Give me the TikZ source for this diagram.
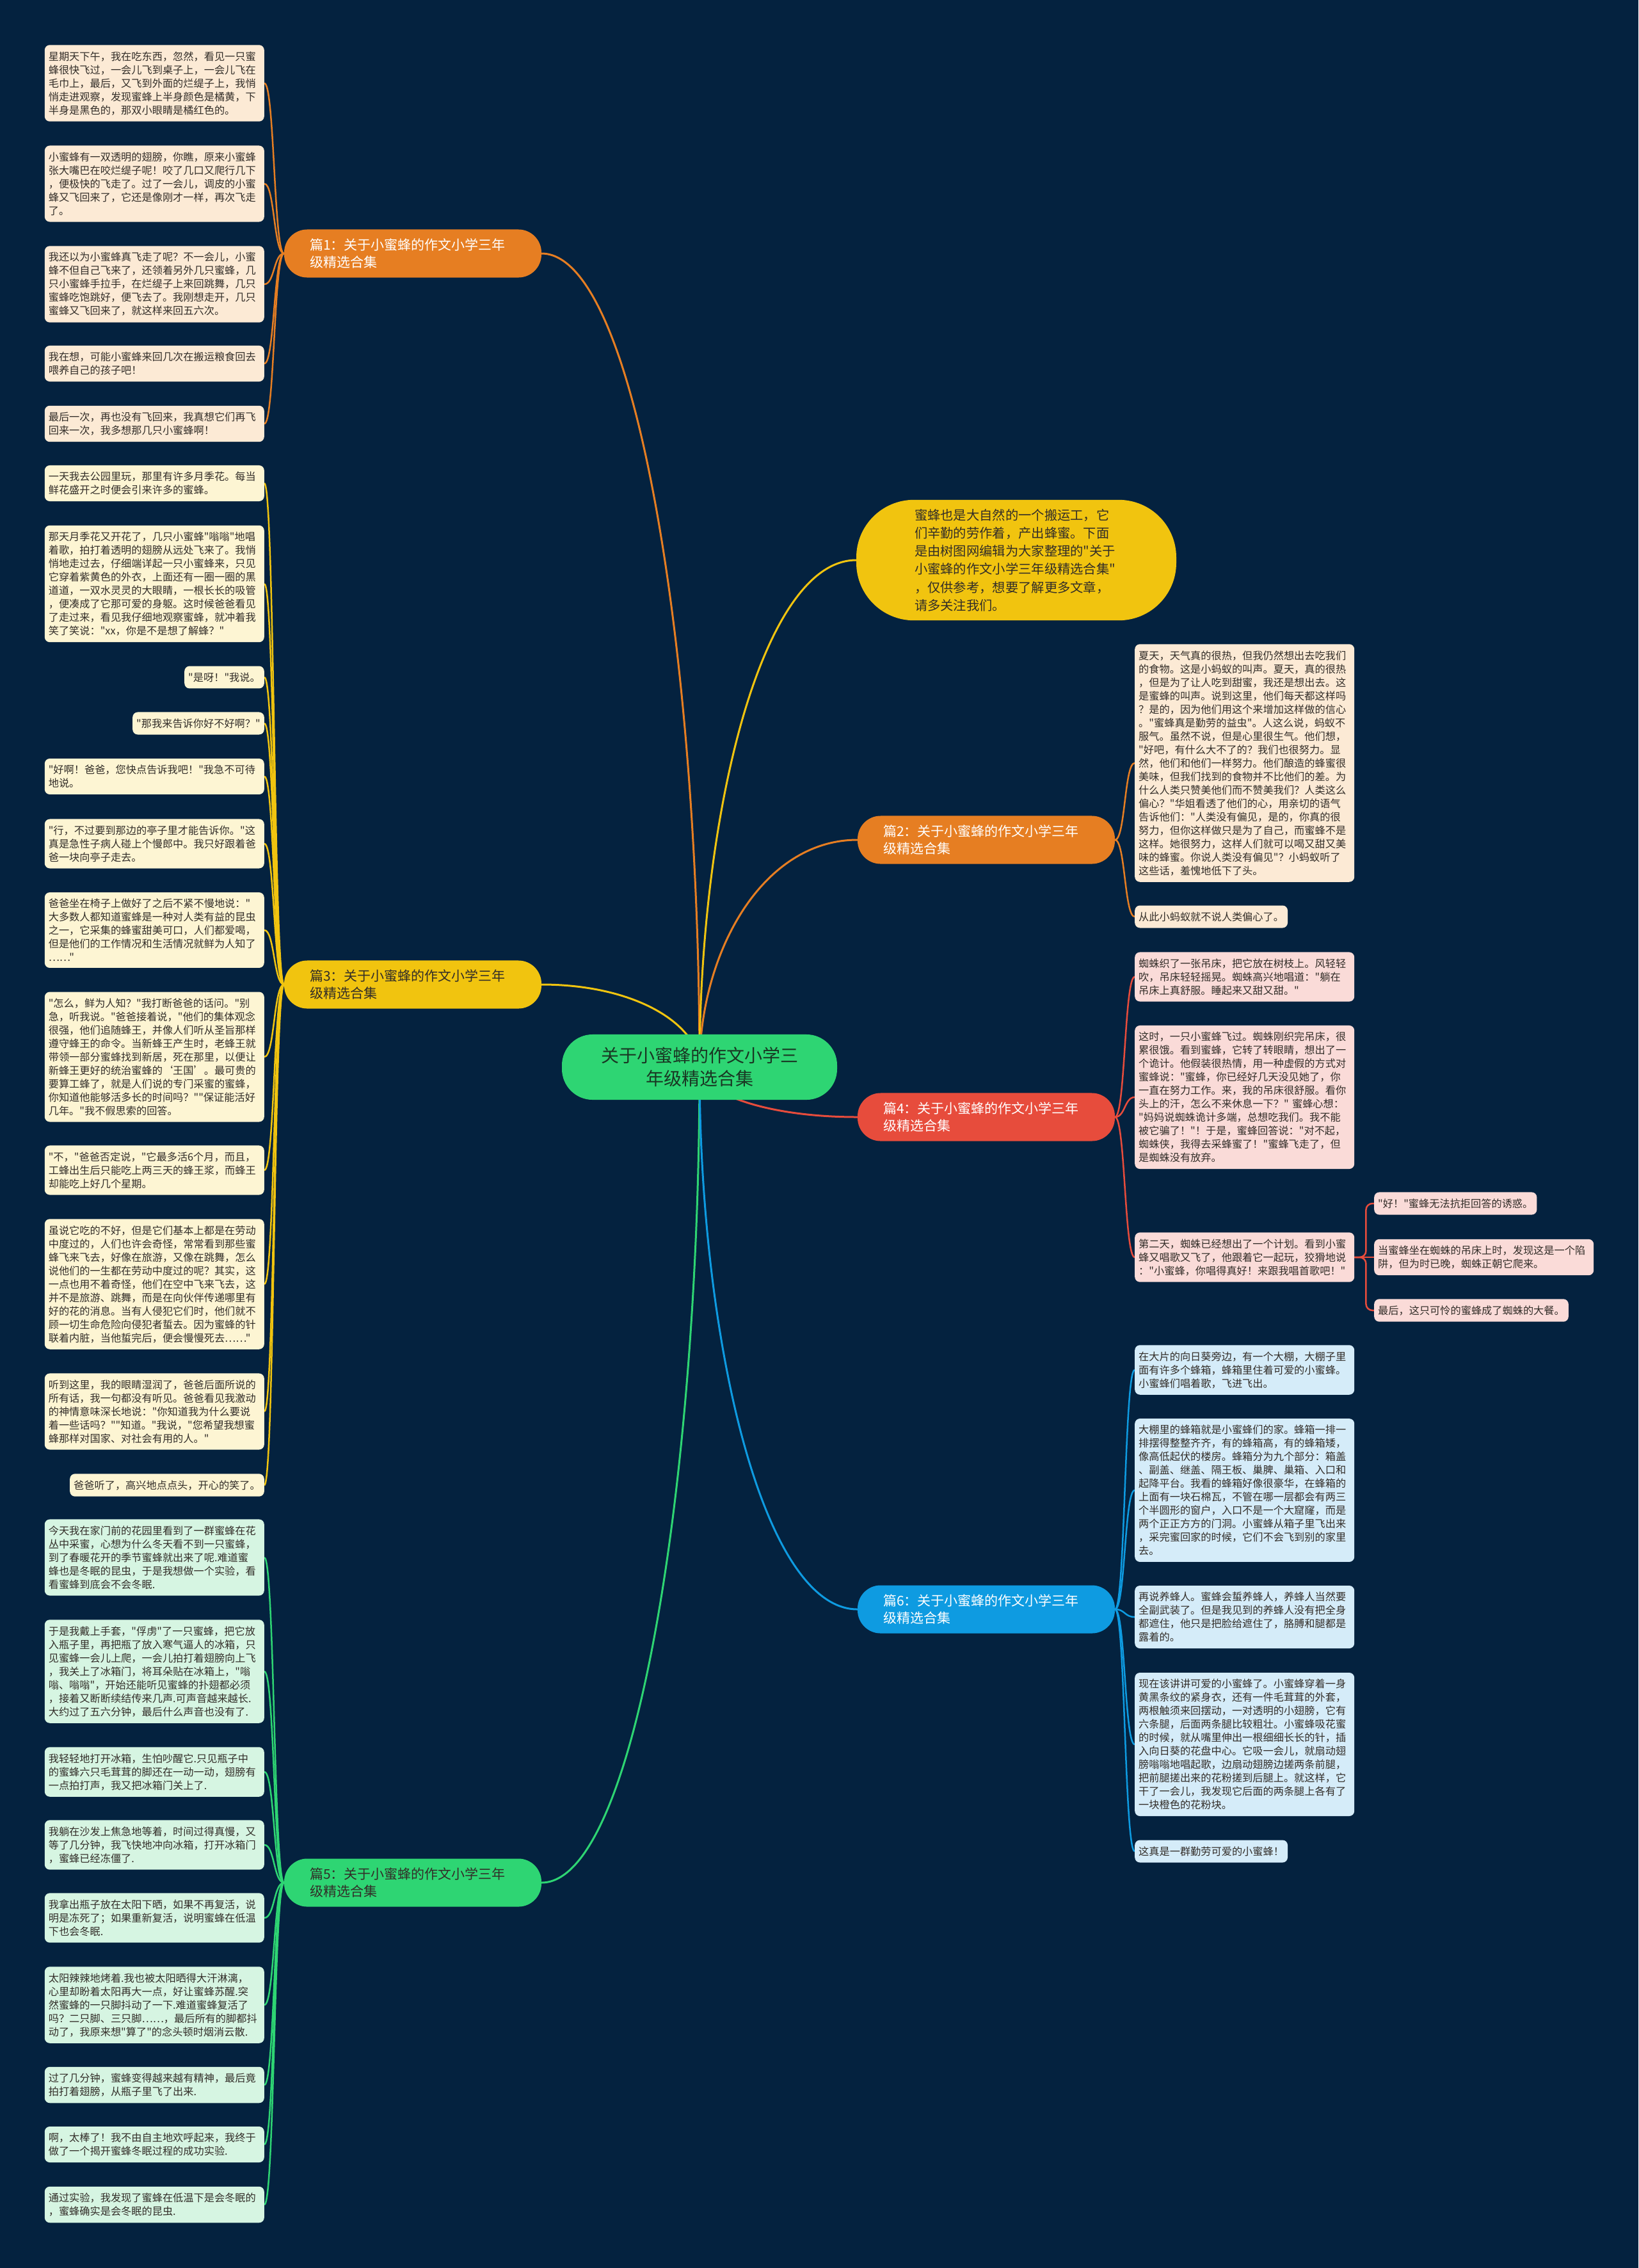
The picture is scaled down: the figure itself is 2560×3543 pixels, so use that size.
\documentclass[tikz,border=0pt]{standalone}
\usepackage{fontspec}
\setmainfont{Noto Sans CJK SC}[Ligatures=TeXOff]
\usetikzlibrary{backgrounds}
\definecolor{navybg}{RGB}{4, 34, 63}
\definecolor{orange1}{RGB}{230, 126, 34}
\definecolor{yellow1}{RGB}{241, 196, 15}
\definecolor{green1}{RGB}{46, 213, 115}
\definecolor{red1}{RGB}{231, 76, 60}
\definecolor{blue1}{RGB}{14, 155, 225}
\definecolor{peachfill}{RGB}{252, 234, 213}
\definecolor{creamfill}{RGB}{253, 245, 211}
\definecolor{mintfill}{RGB}{214, 245, 226}
\definecolor{pinkfill}{RGB}{250, 219, 216}
\definecolor{skyfill}{RGB}{213, 236, 249}
\definecolor{inktext}{RGB}{50, 45, 40}
\definecolor{roottext}{RGB}{25, 55, 35}

\tikzset{
  leaf/.style={rectangle, rounded corners=8pt, inner xsep=6pt, inner ysep=10pt, align=left, text=inktext, font=\fontsize{16.2}{21}\selectfont},
  wide/.style={text width=331pt},
  branch/.style={rectangle, rounded corners=36pt, inner xsep=40pt, inner ysep=14pt, text width=322pt, align=left, font=\fontsize{21}{27.5}\selectfont},
  mainedge/.style={line width=3pt},
  leafedge/.style={line width=2.5pt}
}

\begin{document}
\begin{tikzpicture}[x=1pt, y=-1pt]
  % Root and intro
  \node[rectangle, rounded corners=48pt, fill=green1, text=roottext, align=center, inner xsep=61pt, inner ysep=20pt, font=\fontsize{28}{36}\selectfont] (root) at (1093, 1667) {关于小蜜蜂的作文小学三\\年级精选合集};
  \node[rectangle, rounded corners=90pt, fill=yellow1, text=inktext, text width=318pt, align=left, inner xsep=91pt, inner ysep=14pt, font=\fontsize{20.3}{28.3}\selectfont] (intro) at (1588, 875) {蜜蜂也是大自然的一个搬运工，它\\们辛勤的劳作着，产出蜂蜜。下面\\是由树图网编辑为大家整理的"关于\\小蜜蜂的作文小学三年级精选合集"\\，仅供参考，想要了解更多文章，\\请多关注我们。};

  % Branches
  \node[branch, fill=orange1, text=white] (b1) at (645, 396) {篇1：关于小蜜蜂的作文小学三年\\级精选合集};
  \node[branch, fill=yellow1, text=inktext] (b3) at (645, 1538) {篇3：关于小蜜蜂的作文小学三年\\级精选合集};
  \node[branch, fill=green1, text=inktext] (b5) at (645, 2941) {篇5：关于小蜜蜂的作文小学三年\\级精选合集};
  \node[branch, fill=orange1, text=white] (b2) at (1541, 1312) {篇2：关于小蜜蜂的作文小学三年\\级精选合集};
  \node[branch, fill=red1, text=white] (b4) at (1541, 1745) {篇4：关于小蜜蜂的作文小学三年\\级精选合集};
  \node[branch, fill=blue1, text=white] (b6) at (1541, 2514) {篇6：关于小蜜蜂的作文小学三年\\级精选合集};

  % Leaves of b1
  \node[leaf, wide, fill=peachfill, anchor=east] (l1a) at (413, 130) {星期天下午，我在吃东西，忽然，看见一只蜜\\蜂很快飞过，一会儿飞到桌子上，一会儿飞在\\毛巾上，最后，又飞到外面的烂缇子上，我悄\\悄走进观察，发现蜜蜂上半身颜色是橘黄，下\\半身是黑色的，那双小眼睛是橘红色的。};
  \node[leaf, wide, fill=peachfill, anchor=east] (l1b) at (413, 287) {小蜜蜂有一双透明的翅膀，你瞧，原来小蜜蜂\\张大嘴巴在咬烂缇子呢！咬了几口又爬行几下\\，便极快的飞走了。过了一会儿，调皮的小蜜\\蜂又飞回来了，它还是像刚才一样，再次飞走\\了。};
  \node[leaf, wide, fill=peachfill, anchor=east] (l1c) at (413, 444) {我还以为小蜜蜂真飞走了呢？不一会儿，小蜜\\蜂不但自己飞来了，还领着另外几只蜜蜂，几\\只小蜜蜂手拉手，在烂缇子上来回跳舞，几只\\蜜蜂吃饱跳好，便飞去了。我刚想走开，几只\\蜜蜂又飞回来了，就这样来回五六次。};
  \node[leaf, wide, fill=peachfill, anchor=east] (l1d) at (413, 568) {我在想，可能小蜜蜂来回几次在搬运粮食回去\\喂养自己的孩子吧！};
  \node[leaf, wide, fill=peachfill, anchor=east] (l1e) at (413, 662) {最后一次，再也没有飞回来，我真想它们再飞\\回来一次，我多想那几只小蜜蜂啊！};

  % Leaves of b3
  \node[leaf, wide, fill=creamfill, anchor=east] (l3a) at (413, 755) {一天我去公园里玩，那里有许多月季花。每当\\鲜花盛开之时便会引来许多的蜜蜂。};
  \node[leaf, wide, fill=creamfill, anchor=east] (l3b) at (413, 912) {那天月季花又开花了，几只小蜜蜂"嗡嗡"地唱\\着歌，拍打着透明的翅膀从远处飞来了。我悄\\悄地走过去，仔细端详起一只小蜜蜂来，只见\\它穿着紫黄色的外衣，上面还有一圈一圈的黑\\道道，一双水灵灵的大眼睛，一根长长的吸管\\，便凑成了它那可爱的身躯。这时候爸爸看见\\了走过来，看见我仔细地观察蜜蜂，就冲着我\\笑了笑说："xx，你是不是想了解蜂？"};
  \node[leaf, fill=creamfill, anchor=east] (l3c) at (413, 1058) {"是呀！"我说。};
  \node[leaf, fill=creamfill, anchor=east] (l3d) at (413, 1130) {"那我来告诉你好不好啊？"};
  \node[leaf, wide, fill=creamfill, anchor=east] (l3e) at (413, 1213) {"好啊！爸爸，您快点告诉我吧！"我急不可待\\地说。};
  \node[leaf, wide, fill=creamfill, anchor=east] (l3f) at (413, 1318) {"行，不过要到那边的亭子里才能告诉你。"这\\真是急性子病人碰上个慢郎中。我只好跟着爸\\爸一块向亭子走去。};
  \node[leaf, wide, fill=creamfill, anchor=east] (l3g) at (413, 1453) {爸爸坐在椅子上做好了之后不紧不慢地说："\\大多数人都知道蜜蜂是一种对人类有益的昆虫\\之一，它采集的蜂蜜甜美可口，人们都爱喝，\\但是他们的工作情况和生活情况就鲜为人知了\\……"};
  \node[leaf, wide, fill=creamfill, anchor=east] (l3h) at (413, 1651) {"怎么，鲜为人知？"我打断爸爸的话问。"别\\急，听我说。"爸爸接着说，"他们的集体观念\\很强，他们追随蜂王，并像人们听从圣旨那样\\遵守蜂王的命令。当新蜂王产生时，老蜂王就\\带领一部分蜜蜂找到新居，死在那里，以便让\\新蜂王更好的统治蜜蜂的‘王国’。最可贵的\\要算工蜂了，就是人们说的专门采蜜的蜜蜂，\\你知道他能够活多长的时间吗？""保证能活好\\几年。"我不假思索的回答。};
  \node[leaf, wide, fill=creamfill, anchor=east] (l3i) at (413, 1828) {"不，"爸爸否定说，"它最多活6个月，而且，\\工蜂出生后只能吃上两三天的蜂王浆，而蜂王\\却能吃上好几个星期。};
  \node[leaf, wide, fill=creamfill, anchor=east] (l3j) at (413, 2006) {虽说它吃的不好，但是它们基本上都是在劳动\\中度过的，人们也许会奇怪，常常看到那些蜜\\蜂飞来飞去，好像在旅游，又像在跳舞，怎么\\说他们的一生都在劳动中度过的呢？其实，这\\一点也用不着奇怪，他们在空中飞来飞去，这\\并不是旅游、跳舞，而是在向伙伴传递哪里有\\好的花的消息。当有人侵犯它们时，他们就不\\顾一切生命危险向侵犯者蜇去。因为蜜蜂的针\\联着内脏，当他蜇完后，便会慢慢死去……"};
  \node[leaf, wide, fill=creamfill, anchor=east] (l3k) at (413, 2205) {听到这里，我的眼睛湿润了，爸爸后面所说的\\所有话，我一句都没有听见。爸爸看见我激动\\的神情意味深长地说："你知道我为什么要说\\着一些话吗？""知道。"我说，"您希望我想蜜\\蜂那样对国家、对社会有用的人。"};
  \node[leaf, fill=creamfill, anchor=east] (l3l) at (413, 2320) {爸爸听了，高兴地点点头，开心的笑了。};

  % Leaves of b5
  \node[leaf, wide, fill=mintfill, anchor=east] (l5a) at (413, 2433) {今天我在家门前的花园里看到了一群蜜蜂在花\\丛中采蜜，心想为什么冬天看不到一只蜜蜂，\\到了春暖花开的季节蜜蜂就出来了呢.难道蜜\\蜂也是冬眠的昆虫，于是我想做一个实验，看\\看蜜蜂到底会不会冬眠.};
  \node[leaf, wide, fill=mintfill, anchor=east] (l5b) at (413, 2611) {于是我戴上手套，"俘虏"了一只蜜蜂，把它放\\入瓶子里，再把瓶了放入寒气逼人的冰箱，只\\见蜜蜂一会儿上爬，一会儿拍打着翅膀向上飞\\，我关上了冰箱门，将耳朵贴在冰箱上，"嗡\\嗡、嗡嗡"，开始还能听见蜜蜂的扑翅都必须\\，接着又断断续结传来几声.可声音越来越长.\\大约过了五六分钟，最后什么声音也没有了.};
  \node[leaf, wide, fill=mintfill, anchor=east] (l5c) at (413, 2768) {我轻轻地打开冰箱，生怕吵醒它.只见瓶子中\\的蜜蜂六只毛茸茸的脚还在一动一动，翅膀有\\一点拍打声，我又把冰箱门关上了.};
  \node[leaf, wide, fill=mintfill, anchor=east] (l5d) at (413, 2882) {我躺在沙发上焦急地等着，时间过得真慢，又\\等了几分钟，我飞快地冲向冰箱，打开冰箱门\\，蜜蜂已经冻僵了.};
  \node[leaf, wide, fill=mintfill, anchor=east] (l5e) at (413, 2996) {我拿出瓶子放在太阳下晒，如果不再复活，说\\明是冻死了；如果重新复活，说明蜜蜂在低温\\下也会冬眠.};
  \node[leaf, wide, fill=mintfill, anchor=east] (l5f) at (413, 3132) {太阳辣辣地烤着.我也被太阳晒得大汗淋漓，\\心里却盼着太阳再大一点，好让蜜蜂苏醒.突\\然蜜蜂的一只脚抖动了一下.难道蜜蜂复活了\\吗？二只脚、三只脚……，最后所有的脚都抖\\动了，我原来想"算了"的念头顿时烟消云散.};
  \node[leaf, wide, fill=mintfill, anchor=east] (l5g) at (413, 3257) {过了几分钟，蜜蜂变得越来越有精神，最后竟\\拍打着翅膀，从瓶子里飞了出来.};
  \node[leaf, wide, fill=mintfill, anchor=east] (l5h) at (413, 3350) {啊，太棒了！我不由自主地欢呼起来，我终于\\做了一个揭开蜜蜂冬眠过程的成功实验.};
  \node[leaf, wide, fill=mintfill, anchor=east] (l5i) at (413, 3444) {通过实验，我发现了蜜蜂在低温下是会冬眠的\\，蜜蜂确实是会冬眠的昆虫.};

  % Leaves of b2
  \node[leaf, wide, fill=peachfill, anchor=west] (r2a) at (1773, 1192) {夏天，天气真的很热，但我仍然想出去吃我们\\的食物。这是小蚂蚁的叫声。夏天，真的很热\\，但是为了让人吃到甜蜜，我还是想出去。这\\是蜜蜂的叫声。说到这里，他们每天都这样吗\\？是的，因为他们用这个来增加这样做的信心\\。"蜜蜂真是勤劳的益虫"。人这么说，蚂蚁不\\服气。虽然不说，但是心里很生气。他们想，\\"好吧，有什么大不了的？我们也很努力。显\\然，他们和他们一样努力。他们酿造的蜂蜜很\\美味，但我们找到的食物并不比他们的差。为\\什么人类只赞美他们而不赞美我们？人类这么\\偏心？"华姐看透了他们的心，用亲切的语气\\告诉他们："人类没有偏见，是的，你真的很\\努力，但你这样做只是为了自己，而蜜蜂不是\\这样。她很努力，这样人们就可以喝又甜又美\\味的蜂蜜。你说人类没有偏见"？小蚂蚁听了\\这些话，羞愧地低下了头。};
  \node[leaf, fill=peachfill, anchor=west] (r2b) at (1773, 1432) {从此小蚂蚁就不说人类偏心了。};

  % Leaves of b4
  \node[leaf, wide, fill=pinkfill, anchor=west] (r4a) at (1773, 1526) {蜘蛛织了一张吊床，把它放在树枝上。风轻轻\\吹，吊床轻轻摇晃。蜘蛛高兴地唱道："躺在\\吊床上真舒服。睡起来又甜又甜。"};
  \node[leaf, wide, fill=pinkfill, anchor=west] (r4b) at (1773, 1714) {这时，一只小蜜蜂飞过。蜘蛛刚织完吊床，很\\累很饿。看到蜜蜂，它转了转眼睛，想出了一\\个诡计。他假装很热情，用一种虚假的方式对\\蜜蜂说："蜜蜂，你已经好几天没见她了，你\\一直在努力工作。来，我的吊床很舒服。看你\\头上的汗，怎么不来休息一下？"~蜜蜂心想：\\"妈妈说蜘蛛诡计多端，总想吃我们。我不能\\被它骗了！"！于是，蜜蜂回答说："对不起，\\蜘蛛侠，我得去采蜂蜜了！"蜜蜂飞走了，但\\是蜘蛛没有放弃。};
  \node[leaf, wide, fill=pinkfill, anchor=west] (r4c) at (1773, 1964) {第二天，蜘蛛已经想出了一个计划。看到小蜜\\蜂又唱歌又飞了，他跟着它一起玩，狡猾地说\\："小蜜蜂，你唱得真好！来跟我唱首歌吧！"};
  \node[leaf, fill=pinkfill, anchor=west] (r4d) at (2147, 1880) {"好！"蜜蜂无法抗拒回答的诱惑。};
  \node[leaf, wide, fill=pinkfill, anchor=west] (r4e) at (2147, 1964) {当蜜蜂坐在蜘蛛的吊床上时，发现这是一个陷\\阱，但为时已晚，蜘蛛正朝它爬来。};
  \node[leaf, fill=pinkfill, anchor=west] (r4f) at (2147, 2047) {最后，这只可怜的蜜蜂成了蜘蛛的大餐。};

  % Leaves of b6
  \node[leaf, wide, fill=skyfill, anchor=west] (r6a) at (1773, 2140) {在大片的向日葵旁边，有一个大棚，大棚子里\\面有许多个蜂箱，蜂箱里住着可爱的小蜜蜂。\\小蜜蜂们唱着歌，飞进飞出。};
  \node[leaf, wide, fill=skyfill, anchor=west] (r6b) at (1773, 2328) {大棚里的蜂箱就是小蜜蜂们的家。蜂箱一排一\\排摆得整整齐齐，有的蜂箱高，有的蜂箱矮，\\像高低起伏的楼房。蜂箱分为九个部分：箱盖\\、副盖、继盖、隔王板、巢脾、巢箱、入口和\\起降平台。我看的蜂箱好像很豪华，在蜂箱的\\上面有一块石棉瓦，不管在哪一层都会有两三\\个半圆形的窗户，入口不是一个大窟窿，而是\\两个正正方方的门洞。小蜜蜂从箱子里飞出来\\，采完蜜回家的时候，它们不会飞到别的家里\\去。};
  \node[leaf, wide, fill=skyfill, anchor=west] (r6c) at (1773, 2526) {再说养蜂人。蜜蜂会蜇养蜂人，养蜂人当然要\\全副武装了。但是我见到的养蜂人没有把全身\\都遮住，他只是把脸给遮住了，胳膊和腿都是\\露着的。};
  \node[leaf, wide, fill=skyfill, anchor=west] (r6d) at (1773, 2725) {现在该讲讲可爱的小蜜蜂了。小蜜蜂穿着一身\\黄黑条纹的紧身衣，还有一件毛茸茸的外套，\\两根触须来回摆动，一对透明的小翅膀，它有\\六条腿，后面两条腿比较粗壮。小蜜蜂吸花蜜\\的时候，就从嘴里伸出一根细细长长的针，插\\入向日葵的花盘中心。它吸一会儿，就扇动翅\\膀嗡嗡地唱起歌，边扇动翅膀边搓两条前腿，\\把前腿搓出来的花粉搓到后腿上。就这样，它\\干了一会儿，我发现它后面的两条腿上各有了\\一块橙色的花粉块。};
  \node[leaf, fill=skyfill, anchor=west] (r6e) at (1773, 2892) {这真是一群勤劳可爱的小蜜蜂！};

  \begin{scope}[on background layer]
    % Background
    \fill[navybg] (0, 0) rectangle (2560, 3543);

    % Root to branches
    \draw[mainedge, orange1] (root.center) .. controls (1093, 1030) and (994, 396) .. (b1.east);
    \draw[mainedge, yellow1] (root.center) .. controls (1093, 1270) and (1191, 875) .. (intro.west);
    \draw[mainedge, orange1] (root.center) .. controls (1093, 1488) and (1191, 1312) .. (b2.west);
    \draw[mainedge, yellow1] (root.center) .. controls (1093, 1601) and (994, 1538) .. (b3.east);
    \draw[mainedge, red1] (root.center) .. controls (1093, 1705) and (1191, 1745) .. (b4.west);
    \draw[mainedge, green1] (root.center) .. controls (1093, 2303) and (994, 2941) .. (b5.east);
    \draw[mainedge, blue1] (root.center) .. controls (1093, 2089) and (1191, 2514) .. (b6.west);

    % b1 to leaves
    \draw[leafedge, orange1] (b1.west) .. controls +(-16, 0) and +(16, 0) .. (l1a.east);
    \draw[leafedge, orange1] (b1.west) .. controls +(-16, 0) and +(16, 0) .. (l1b.east);
    \draw[leafedge, orange1] (b1.west) .. controls +(-16, 0) and +(16, 0) .. (l1c.east);
    \draw[leafedge, orange1] (b1.west) .. controls +(-16, 0) and +(16, 0) .. (l1d.east);
    \draw[leafedge, orange1] (b1.west) .. controls +(-16, 0) and +(16, 0) .. (l1e.east);

    % b3 to leaves
    \draw[leafedge, yellow1] (b3.west) .. controls +(-16, 0) and +(16, 0) .. (l3a.east);
    \draw[leafedge, yellow1] (b3.west) .. controls +(-16, 0) and +(16, 0) .. (l3b.east);
    \draw[leafedge, yellow1] (b3.west) .. controls +(-16, 0) and +(16, 0) .. (l3c.east);
    \draw[leafedge, yellow1] (b3.west) .. controls +(-16, 0) and +(16, 0) .. (l3d.east);
    \draw[leafedge, yellow1] (b3.west) .. controls +(-16, 0) and +(16, 0) .. (l3e.east);
    \draw[leafedge, yellow1] (b3.west) .. controls +(-16, 0) and +(16, 0) .. (l3f.east);
    \draw[leafedge, yellow1] (b3.west) .. controls +(-16, 0) and +(16, 0) .. (l3g.east);
    \draw[leafedge, yellow1] (b3.west) .. controls +(-16, 0) and +(16, 0) .. (l3h.east);
    \draw[leafedge, yellow1] (b3.west) .. controls +(-16, 0) and +(16, 0) .. (l3i.east);
    \draw[leafedge, yellow1] (b3.west) .. controls +(-16, 0) and +(16, 0) .. (l3j.east);
    \draw[leafedge, yellow1] (b3.west) .. controls +(-16, 0) and +(16, 0) .. (l3k.east);
    \draw[leafedge, yellow1] (b3.west) .. controls +(-16, 0) and +(16, 0) .. (l3l.east);

    % b5 to leaves
    \draw[leafedge, green1] (b5.west) .. controls +(-16, 0) and +(16, 0) .. (l5a.east);
    \draw[leafedge, green1] (b5.west) .. controls +(-16, 0) and +(16, 0) .. (l5b.east);
    \draw[leafedge, green1] (b5.west) .. controls +(-16, 0) and +(16, 0) .. (l5c.east);
    \draw[leafedge, green1] (b5.west) .. controls +(-16, 0) and +(16, 0) .. (l5d.east);
    \draw[leafedge, green1] (b5.west) .. controls +(-16, 0) and +(16, 0) .. (l5e.east);
    \draw[leafedge, green1] (b5.west) .. controls +(-16, 0) and +(16, 0) .. (l5f.east);
    \draw[leafedge, green1] (b5.west) .. controls +(-16, 0) and +(16, 0) .. (l5g.east);
    \draw[leafedge, green1] (b5.west) .. controls +(-16, 0) and +(16, 0) .. (l5h.east);
    \draw[leafedge, green1] (b5.west) .. controls +(-16, 0) and +(16, 0) .. (l5i.east);

    % b2 to leaves
    \draw[leafedge, orange1] (b2.east) .. controls +(16, 0) and +(-16, 0) .. (r2a.west);
    \draw[leafedge, orange1] (b2.east) .. controls +(16, 0) and +(-16, 0) .. (r2b.west);

    % b4 to leaves
    \draw[leafedge, red1] (b4.east) .. controls +(16, 0) and +(-16, 0) .. (r4a.west);
    \draw[leafedge, red1] (b4.east) .. controls +(16, 0) and +(-16, 0) .. (r4b.west);
    \draw[leafedge, red1] (b4.east) .. controls +(16, 0) and +(-16, 0) .. (r4c.west);
    \draw[leafedge, red1, rounded corners=10pt] (r4c.east) -- ++(18, 0) |- (r4d.west);
    \draw[leafedge, red1] (r4c.east) -- (r4e.west);
    \draw[leafedge, red1, rounded corners=10pt] (r4c.east) -- ++(18, 0) |- (r4f.west);

    % b6 to leaves
    \draw[leafedge, blue1] (b6.east) .. controls +(16, 0) and +(-16, 0) .. (r6a.west);
    \draw[leafedge, blue1] (b6.east) .. controls +(16, 0) and +(-16, 0) .. (r6b.west);
    \draw[leafedge, blue1] (b6.east) .. controls +(16, 0) and +(-16, 0) .. (r6c.west);
    \draw[leafedge, blue1] (b6.east) .. controls +(16, 0) and +(-16, 0) .. (r6d.west);
    \draw[leafedge, blue1] (b6.east) .. controls +(16, 0) and +(-16, 0) .. (r6e.west);
  \end{scope}
\end{tikzpicture}
\end{document}
